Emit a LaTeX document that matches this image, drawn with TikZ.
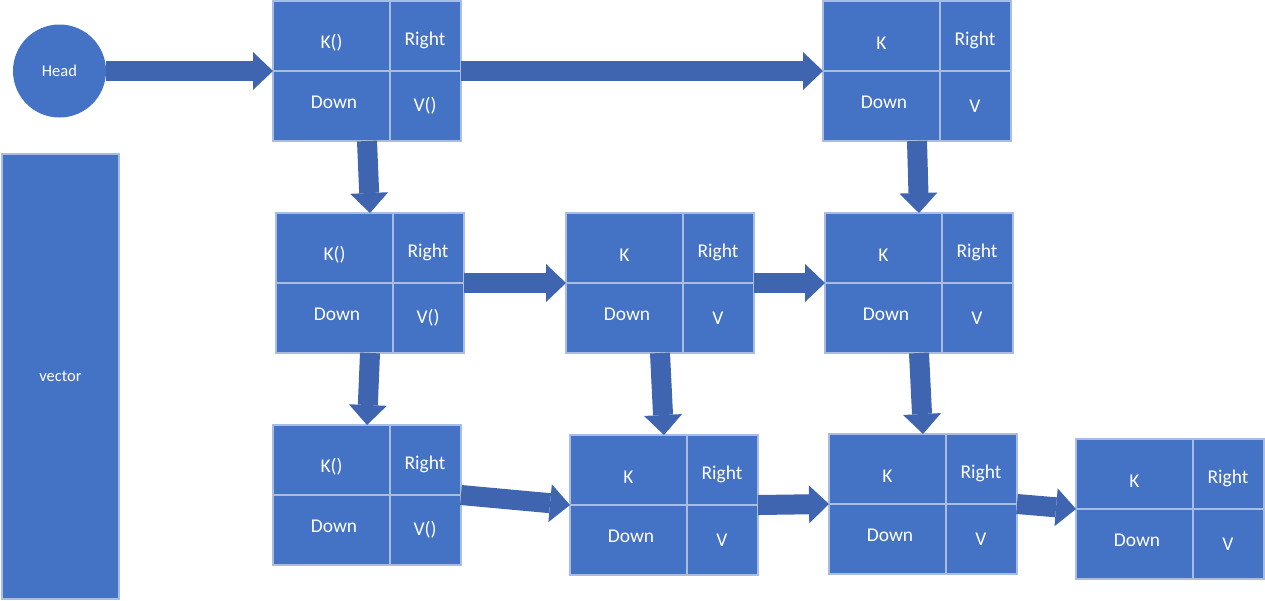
\documentclass[tikz,border=0pt]{standalone}
\usepackage{fontspec}
\setmainfont{Carlito}
\usepackage{tikz}
\usetikzlibrary{arrows.meta}
\definecolor{boxblue}{HTML}{4472C4}
\definecolor{arrowblue}{HTML}{3F65B0}
\definecolor{gridline}{HTML}{A9BDE3}

% one list entry: name, top-left x, top-left y, key label, value label
\newcommand{\kventry}[5]{%
	\node[kvbox, anchor=north west] (#1) at (#2,#3) {};
	\draw[cellline] ([xshift=117pt]#1.north west) -- ([xshift=117pt]#1.south west);
	\draw[cellline] (#1.west) -- (#1.east);
	\node[celltext] (#1-key) at ([xshift=58.5pt,yshift=-42pt]#1.north west) {#4};
	\node[celltext] (#1-right) at ([xshift=152pt,yshift=-39pt]#1.north west) {Right};
	\node[celltext] (#1-down) at ([xshift=61pt,yshift=-101pt]#1.north west) {Down};
	\node[celltext] (#1-val) at ([xshift=152pt,yshift=-105pt]#1.north west) {#5};
}

\begin{document}
\begin{tikzpicture}[
		x=1pt, y=-1pt,
		kvbox/.style={draw=gridline, line width=1.2pt, fill=boxblue, rectangle, minimum width=188pt, minimum height=140pt, inner sep=0pt, outer sep=0pt},
		cellline/.style={draw=gridline, line width=1.2pt},
		celltext/.style={text=white, inner sep=0pt, font=\fontsize{19.5}{23}\selectfont},
		headnode/.style={circle, fill=boxblue, minimum size=93pt, inner sep=0pt, outer sep=0pt, text=white, font=\fontsize{16.5}{20}\selectfont},
		vecbox/.style={rectangle, draw=gridline, line width=1.2pt, fill=boxblue, minimum width=117pt, minimum height=445pt, inner sep=0pt, text=white, font=\fontsize{16.5}{20}\selectfont},
		arrow/.style={draw=arrowblue, line width=20pt, -{Triangle[length=20pt 0 0, width=38pt 0 0, line width=0pt 0 0, fill=arrowblue]}}
		]
		\useasboundingbox (0,0) rectangle (1265,600);

		% Nodes
		\node[headnode] (head) at (59.5,71) {Head};
		\node[vecbox] (vector) at (60.5,376.5) {vector};

		\kventry{A}{273}{1}{K()}{V()}
		\kventry{B}{823}{1}{K}{V}
		\kventry{C}{276}{213}{K()}{V()}
		\kventry{D}{566}{213}{K}{V}
		\kventry{E}{825}{213}{K}{V}
		\kventry{F}{273}{425}{K()}{V()}
		\kventry{G}{570}{435}{K}{V}
		\kventry{H}{829}{434}{K}{V}
		\kventry{I}{1076}{439}{K}{V}

		% Arrows
		\draw[arrow] (head.east) -- (A.west);
		\draw[arrow] (A.east) -- (B.west);
		\draw[arrow] (A.south) -- (C.north);
		\draw[arrow] (B.south) -- (E.north);
		\draw[arrow] (C.east) -- (D.west);
		\draw[arrow] (D.east) -- (E.west);
		\draw[arrow] (C.south) -- (F.north);
		\draw[arrow] (D.south) -- (G.north);
		\draw[arrow] (E.south) -- (H.north);
		\draw[arrow] (F.east) -- (G.west);
		\draw[arrow] (G.east) -- (H.west);
		\draw[arrow] (H.east) -- (I.west);

	\end{tikzpicture}
\end{document}
